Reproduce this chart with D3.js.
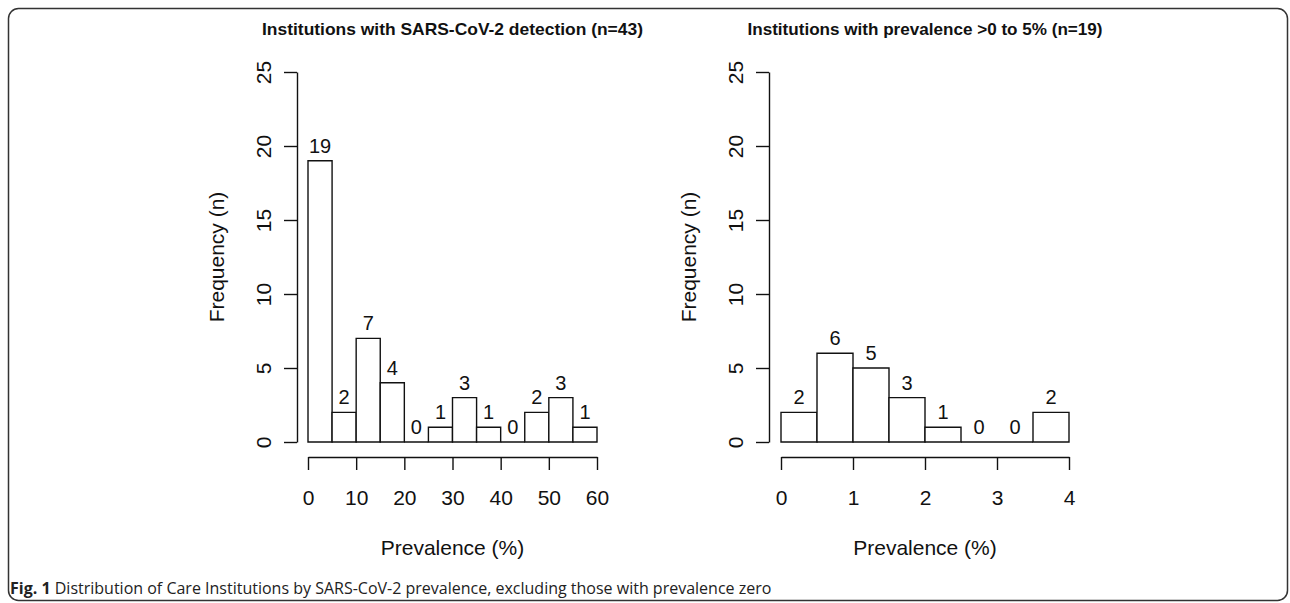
<!DOCTYPE html>
<html>
<head>
<meta charset="utf-8">
<script src="https://cdn.jsdelivr.net/npm/d3@7"></script>
<style>
    body { margin: 0; background: #fff; }
    svg { display: block; }
</style>
</head>
<body>
<svg id="fig" width="1290" height="603"></svg>
<script>
// histogram counts
var titles = ['Institutions with SARS-CoV-2 detection (n=43)', 'Institutions with prevalence >0 to 5% (n=19)'];
var binsAll = [0, 5, 10, 15, 20, 25, 30, 35, 40, 45, 50, 55, 60];
var countsAll = [19, 2, 7, 4, 0, 1, 3, 1, 0, 2, 3, 1];
var binsLow = [0, 0.5, 1, 1.5, 2, 2.5, 3, 3.5, 4];
var countsLow = [2, 6, 5, 3, 1, 0, 0, 2];
var xTicksAll = [0, 10, 20, 30, 40, 50, 60];
var xTicksLow = [0, 1, 2, 3, 4];
var yTicks = [0, 5, 10, 15, 20, 25];
var xLabel = 'Prevalence (%)';
var yLabel = 'Frequency (n)';

var svg = d3.select('#fig');
var axisFont = 'Liberation Sans, Arial, Helvetica, sans-serif';
var titleFont = 'Liberation Sans Narrow, Arial Narrow, Liberation Sans, Arial, sans-serif';

// outer frame of the figure
svg.append('rect')
    .attr('x', 8.5)
    .attr('y', 8.5)
    .attr('width', 1279)
    .attr('height', 592)
    .attr('rx', 10)
    .attr('fill', 'none')
    .attr('stroke', '#333')
    .attr('stroke-width', 1.5);

var yScale = d3.scaleLinear().domain([0, 25]).range([442, 72]);

function drawPanel(opts) {
    var x = d3.scaleLinear().domain([opts.bins[0], opts.bins[opts.bins.length - 1]]).range(opts.range);
    var g = svg.append('g').attr('class', 'panel');
    var cx = (opts.range[0] + opts.range[1]) / 2;

    g.append('text')
        .attr('x', cx)
        .attr('y', 35)
        .attr('text-anchor', 'middle')
        .attr('font-family', titleFont)
        .attr('font-weight', 'bold')
        .attr('font-size', 17)
        .attr('textLength', opts.titleWidth)
        .attr('lengthAdjust', 'spacingAndGlyphs')
        .attr('fill', '#111')
        .text(opts.title);

    var bars = opts.counts.map(function (c, i) {
        return { x0: opts.bins[i], x1: opts.bins[i + 1], n: c };
    });

    // bars as closed paths so empty bins still show a base line
    g.selectAll('path.bar')
        .data(bars)
        .enter()
        .append('path')
        .attr('class', 'bar')
        .attr('d', function (d) {
            var p = d3.path();
            p.moveTo(x(d.x0), yScale(0));
            p.lineTo(x(d.x0), yScale(d.n));
            p.lineTo(x(d.x1), yScale(d.n));
            p.lineTo(x(d.x1), yScale(0));
            p.closePath();
            return p.toString();
        })
        .attr('fill', '#fff')
        .attr('stroke', '#111')
        .attr('stroke-width', 1.4);

    g.selectAll('text.count')
        .data(bars)
        .enter()
        .append('text')
        .attr('class', 'count')
        .attr('x', function (d) { return x((d.x0 + d.x1) / 2); })
        .attr('y', function (d) { return yScale(d.n) - 8; })
        .attr('text-anchor', 'middle')
        .attr('font-family', axisFont)
        .attr('font-size', 20)
        .attr('fill', '#111')
        .text(function (d) { return d.n; });

    // x axis sits below the plot, like base R
    var xAxis = g.append('g')
        .attr('transform', 'translate(0,457)')
        .call(d3.axisBottom(x).tickValues(opts.xTicks).tickSize(13).tickSizeOuter(0).tickFormat(d3.format('d')));
    xAxis.select('.domain').attr('stroke', '#111').attr('stroke-width', 1.4);
    xAxis.selectAll('.tick line').attr('stroke', '#111').attr('stroke-width', 1.4);
    xAxis.selectAll('.tick text')
        .attr('font-family', axisFont)
        .attr('font-size', 21)
        .attr('fill', '#111')
        .attr('y', 48)
        .attr('dy', 0);

    var yAxis = g.append('g')
        .attr('transform', 'translate(' + opts.yAxisX + ',0)')
        .call(d3.axisLeft(yScale).tickValues(yTicks).tickSize(13).tickSizeOuter(0).tickFormat(d3.format('d')));
    yAxis.select('.domain').attr('stroke', '#111').attr('stroke-width', 1.4);
    yAxis.selectAll('.tick line').attr('stroke', '#111').attr('stroke-width', 1.4);
    yAxis.selectAll('.tick text')
        .attr('font-family', axisFont)
        .attr('font-size', 21)
        .attr('fill', '#111')
        .attr('x', null)
        .attr('dy', 0)
        .attr('text-anchor', 'middle')
        .attr('transform', 'translate(-26,0) rotate(-90)');

    g.append('text')
        .attr('x', cx)
        .attr('y', 555)
        .attr('text-anchor', 'middle')
        .attr('font-family', axisFont)
        .attr('font-size', 21)
        .attr('fill', '#111')
        .text(xLabel);

    g.append('text')
        .attr('transform', 'translate(' + (opts.yAxisX - 73) + ',' + yScale(12.5) + ') rotate(-90)')
        .attr('text-anchor', 'middle')
        .attr('font-family', axisFont)
        .attr('font-size', 21)
        .attr('fill', '#111')
        .text(yLabel);
}

drawPanel({ title: titles[0], titleWidth: 381, bins: binsAll, counts: countsAll, xTicks: xTicksAll, range: [308, 597], yAxisX: 297 });
drawPanel({ title: titles[1], titleWidth: 355, bins: binsLow, counts: countsLow, xTicks: xTicksLow, range: [781, 1069], yAxisX: 769 });

// caption
var cap = svg.append('text')
    .attr('x', 10)
    .attr('y', 594)
    .attr('font-family', 'Open Sans, Noto Sans, sans-serif')
    .attr('font-size', 16)
    .attr('fill', '#222');
cap.append('tspan').attr('font-weight', 'bold').text('Fig. 1');
cap.append('tspan').text(' Distribution of Care Institutions by SARS-CoV-2 prevalence, excluding those with prevalence zero');
</script>
</body>
</html>
